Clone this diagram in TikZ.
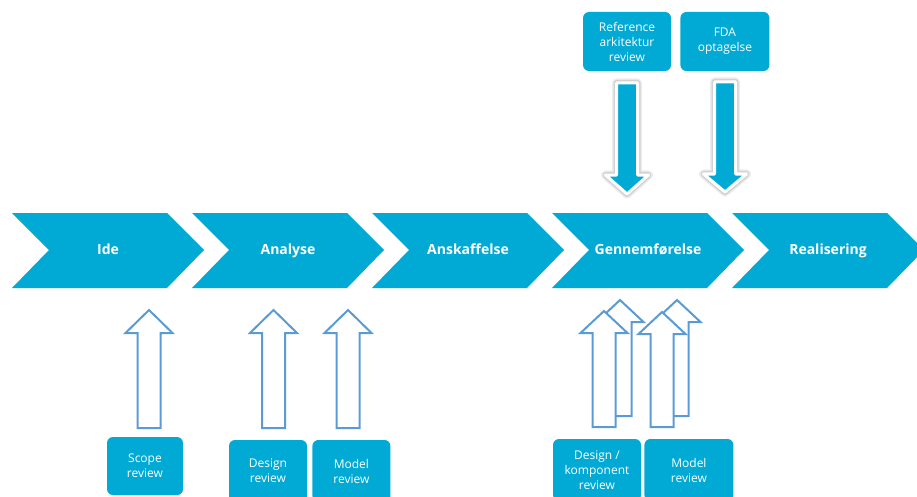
\documentclass[tikz,border=0pt]{standalone}
\usepackage{fontspec}
\setmainfont{Open Sans}
\usetikzlibrary{positioning}
\definecolor{procblue}{RGB}{0,170,212}
\definecolor{revline}{RGB}{91,155,213}
% hollow block arrow pointing up: centre x, tip y, head base y, bottom y
\newcommand{\hollowup}[4]{%
  \draw[revarrow] (#1-11.5,#4) -- (#1-11.5,#3) -- (#1-23.5,#3) -- (#1,#2)
    -- (#1+23.5,#3) -- (#1+11.5,#3) -- (#1+11.5,#4) -- cycle;}
% filled block arrow pointing down: centre x, top y, head base y, tip y
\newcommand{\filleddown}[4]{%
  \draw[gray!15, line width=9pt, line join=round] (#1-10.5,#2) -- (#1-10.5,#3) -- (#1-21.5,#3) -- (#1,#4)
    -- (#1+21.5,#3) -- (#1+10.5,#3) -- (#1+10.5,#2) -- cycle;
  \draw[gray!35, line width=6pt, line join=round] (#1-10.5,#2) -- (#1-10.5,#3) -- (#1-21.5,#3) -- (#1,#4)
    -- (#1+21.5,#3) -- (#1+10.5,#3) -- (#1+10.5,#2) -- cycle;
  \draw[fill=procblue, draw=white, line width=3pt, line join=round] (#1-10.5,#2) -- (#1-10.5,#3) -- (#1-21.5,#3) -- (#1,#4)
    -- (#1+21.5,#3) -- (#1+10.5,#3) -- (#1+10.5,#2) -- cycle;}
\tikzset{
  phase/.style={text=white, anchor=base, font=\bfseries\fontsize{14}{16}\selectfont},
  revbox/.style={fill=procblue, rounded corners=6pt, text=white, align=center,
    inner sep=0pt, font=\fontsize{12}{15}\selectfont},
  revarrow/.style={draw=revline, fill=white, line width=2pt, line join=miter}
}

\begin{document}
\begin{tikzpicture}[x=1pt, y=-1pt]
  \useasboundingbox (0,0) rectangle (917,497);
  \clip (0,0) rectangle (917,497);

  % phases
  \foreach \x/\nm/\txt in {12/ide/Ide, 192/analyse/Analyse, 372/anskaf/Anskaffelse,
                           552/gennem/Gennemførelse, 732/real/Realisering} {
    \fill[procblue] (\x,213) -- ++(155,0) -- ++(37,37) -- ++(-37,38) -- ++(-155,0) -- ++(37,-38) -- cycle;
    \node[phase] (\nm) at (\x+96,254.5) {\txt};
  }

  % reviews from above
  \node[revbox, minimum width=88pt, minimum height=59pt] (refark) at (627,41.5) {Reference\\arkitektur\\review};
  \node[revbox, minimum width=89pt, minimum height=59pt, right=9pt of refark] (fda) {FDA\\optagelse};
  \filleddown{627}{83}{175}{194}
  \filleddown{725}{82}{174}{192}

  % reviews from below
  \node[revbox, minimum width=76pt, minimum height=58pt] (scope) at (145,466) {Scope\\review};
  \node[revbox, minimum width=78pt, minimum height=62pt] (design) at (268,471) {Design\\review};
  \node[revbox, minimum width=78pt, minimum height=62pt, right=5pt of design] (model) {Model\\review};
  \node[revbox, minimum width=88pt, minimum height=62pt] (designkomp) at (597,470) {Design /\\komponent\\review};
  \node[revbox, minimum width=89pt, minimum height=62pt, right=3pt of designkomp] (model2) {Model\\review};

  \hollowup{149}{310}{333}{428}
  \hollowup{273.5}{310}{333}{428}
  \hollowup{348}{310}{333}{428}
  \hollowup{620}{300}{322}{416}
  \hollowup{604}{311}{333}{427}
  \hollowup{677}{300}{322}{416}
  \hollowup{662}{312}{334}{427}
\end{tikzpicture}
\end{document}
